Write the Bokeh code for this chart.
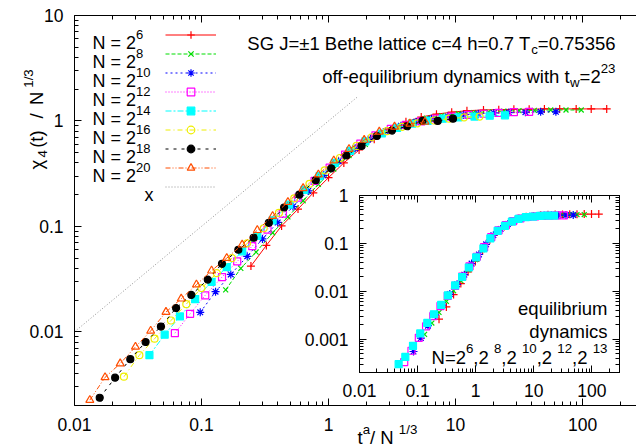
import math
from bokeh.plotting import figure
from bokeh.models import (Label, LogAxis, FixedTicker, CustomJSTickFormatter,
                          Legend, LegendItem, Range1d)
from bokeh.layouts import column
from bokeh.embed import file_html
from bokeh.resources import INLINE

# ---------------- data: main plot (off-equilibrium, t_w = 2^23) ----------------
x_n6 = [0.245, 0.324, 0.427, 0.575, 0.759, 1.00, 1.32, 1.74, 2.29, 3.09, 4.07, 5.37,
        7.08, 9.33, 12.3, 16.6, 21.9, 28.8, 38.0, 50.1, 66.1, 89.1, 117, 155]
y_n6 = [0.042, 0.066, 0.101, 0.146, 0.208, 0.29, 0.40, 0.53, 0.67, 0.84, 0.98, 1.09,
        1.16, 1.21, 1.25, 1.27, 1.28, 1.29, 1.29, 1.30, 1.30, 1.30, 1.30, 1.30]

x_n8 = [0.155, 0.204, 0.269, 0.363, 0.479, 0.631, 0.832, 1.10, 1.45, 1.95, 2.57, 3.39,
        4.47, 5.89, 7.76, 10.5, 13.8, 18.2, 24.0, 31.6, 41.7, 56.2, 74.1, 97.7]
y_n8 = [0.025, 0.040, 0.057, 0.087, 0.123, 0.175, 0.25, 0.35, 0.47, 0.60, 0.75, 0.88,
        0.98, 1.06, 1.12, 1.17, 1.20, 1.22, 1.24, 1.25, 1.26, 1.27, 1.27, 1.27]

x_n10 = [0.0977, 0.129, 0.170, 0.229, 0.302, 0.398, 0.525, 0.692, 0.912, 1.20, 1.62, 2.14,
         2.82, 3.72, 4.90, 6.46, 8.71, 11.5, 15.1, 20.0, 26.3, 35.5, 46.8, 61.7]
y_n10 = [0.0153, 0.024, 0.035, 0.052, 0.076, 0.109, 0.154, 0.217, 0.305, 0.415, 0.55, 0.68,
         0.80, 0.90, 0.98, 1.05, 1.10, 1.14, 1.17, 1.19, 1.20, 1.21, 1.22, 1.22]

x_n12 = [0.0617, 0.0813, 0.107, 0.145, 0.191, 0.251, 0.331, 0.437, 0.575, 0.776, 1.02, 1.35,
         1.78, 2.34, 3.09, 4.07, 5.37, 7.08, 9.33, 12.6, 16.6, 21.9, 28.8, 38.0]
y_n12 = [0.0097, 0.0148, 0.0222, 0.033, 0.0465, 0.065, 0.093, 0.132, 0.187, 0.27, 0.36, 0.48,
         0.61, 0.73, 0.84, 0.92, 0.99, 1.05, 1.10, 1.14, 1.17, 1.19, 1.21, 1.22]

x_n14 = [0.0389, 0.0513, 0.0676, 0.0891, 0.120, 0.158, 0.209, 0.275, 0.363, 0.490, 0.646, 0.851,
         1.12, 1.48, 1.95, 2.63, 3.47, 4.57, 6.03, 7.94, 10.5, 14.1, 18.6, 24.5]
y_n14 = [0.006, 0.0094, 0.014, 0.0204, 0.0297, 0.041, 0.058, 0.081, 0.114, 0.161, 0.222, 0.30,
         0.40, 0.52, 0.64, 0.76, 0.86, 0.94, 1.00, 1.05, 1.08, 1.10, 1.12, 1.13]

x_n16 = [0.0245, 0.0324, 0.0427, 0.0575, 0.0759, 0.100, 0.132, 0.174, 0.229, 0.309, 0.407, 0.537,
         0.708, 0.933, 1.23, 1.66, 2.19, 2.88, 3.80, 5.01, 6.76, 8.91, 11.7, 15.5]
y_n16 = [0.00375, 0.006, 0.0086, 0.0128, 0.0183, 0.026, 0.036, 0.050, 0.069, 0.096, 0.134, 0.184,
         0.253, 0.34, 0.445, 0.58, 0.70, 0.80, 0.88, 0.95, 1.01, 1.05, 1.08, 1.10]

x_n18 = [0.0158, 0.0209, 0.0275, 0.0363, 0.0479, 0.0631, 0.0832, 0.112, 0.145, 0.195, 0.257, 0.339,
         0.447, 0.589, 0.794, 1.05, 1.38, 1.82, 2.40, 3.16, 4.17, 5.50, 7.24, 9.55]
y_n18 = [0.00237, 0.00367, 0.0055, 0.008, 0.0112, 0.0168, 0.0224, 0.0313, 0.0441, 0.060, 0.078, 0.108,
         0.151, 0.20, 0.274, 0.355, 0.47, 0.58, 0.72, 0.81, 0.89, 1.0, 1.0, 1.05]

x_n20 = [0.0132, 0.0174, 0.0229, 0.0302, 0.0398, 0.0525, 0.0692, 0.0912, 0.120, 0.158, 0.209, 0.275,
         0.363, 0.479, 0.631, 0.832, 1.10, 1.45, 1.91, 2.51, 3.31, 4.37, 5.75]
y_n20 = [0.00225, 0.0037, 0.0050, 0.0072, 0.0102, 0.0154, 0.0206, 0.028, 0.038, 0.050, 0.067, 0.092,
         0.125, 0.17, 0.23, 0.31, 0.42, 0.54, 0.66, 0.79, 0.88, 0.94, 0.98]

# reference line "x"  (y = x)
guide_x = [0.01, 1.7]
guide_y = [0.01, 1.7]

# ---------------- data: inset (equilibrium dynamics) ----------------
ix_n6 = [0.234, 0.313, 0.417, 0.556, 0.741, 0.989, 1.32, 1.76, 2.34, 3.13, 4.17, 5.56,
         7.41, 9.89, 13.2, 17.6, 23.4, 31.3, 41.7, 55.6, 74.1, 98.9, 132]
iy_n6 = [0.0026, 0.0047, 0.0085, 0.0144, 0.0254, 0.042, 0.070, 0.119, 0.172, 0.224, 0.28, 0.33,
         0.36, 0.375, 0.387, 0.395, 0.40, 0.403, 0.406, 0.408, 0.41, 0.41, 0.41]

ix_n8 = [0.132, 0.176, 0.234, 0.313, 0.417, 0.556, 0.741, 0.989, 1.32, 1.76, 2.34, 3.13,
         4.17, 5.56, 7.41, 9.89, 13.2, 17.6, 23.4, 31.3, 41.7, 55.6, 74.1]
iy_n8 = [0.00125, 0.00216, 0.0036, 0.0061, 0.0102, 0.0166, 0.0281, 0.0455, 0.0736, 0.124, 0.177, 0.229,
         0.284, 0.327, 0.353, 0.367, 0.378, 0.386, 0.391, 0.395, 0.398, 0.40, 0.40]

ix_n10 = [0.0851, 0.114, 0.151, 0.202, 0.269, 0.359, 0.479, 0.638, 0.851, 1.14, 1.51, 2.02,
          2.69, 3.59, 4.79, 6.38, 8.51, 11.4, 15.1, 20.2, 26.9, 35.9, 47.9]
iy_n10 = [0.00055, 0.00105, 0.0019, 0.0032, 0.0051, 0.0087, 0.0139, 0.0222, 0.0377, 0.0588, 0.0955, 0.148,
          0.20, 0.254, 0.305, 0.34, 0.36, 0.372, 0.38, 0.385, 0.388, 0.39, 0.39]

ix_n12 = [0.0589, 0.0785, 0.105, 0.140, 0.186, 0.248, 0.331, 0.442, 0.589, 0.785, 1.05, 1.40,
          1.86, 2.48, 3.31, 4.42, 5.89, 7.85, 10.5, 14.0, 18.6, 24.8, 33.1]
iy_n12 = [0.00033, 0.00057, 0.00106, 0.00184, 0.0030, 0.0049, 0.0080, 0.0129, 0.0202, 0.0331, 0.0525, 0.083,
          0.135, 0.187, 0.24, 0.292, 0.331, 0.355, 0.366, 0.376, 0.381, 0.384, 0.386]

ix_n13 = [0.0472, 0.0615, 0.0834, 0.111, 0.147, 0.191, 0.255, 0.332, 0.443, 0.585, 0.762, 1.02,
          1.36, 1.79, 2.39, 3.19, 4.21, 5.48, 7.31, 9.77, 12.9, 17.3, 22.4]
iy_n13 = [0.000298, 0.000424, 0.000722, 0.00131, 0.00217, 0.0033, 0.0052, 0.00817, 0.0132, 0.0198, 0.0313, 0.0507,
          0.0785, 0.127, 0.182, 0.231, 0.285, 0.325, 0.353, 0.363, 0.376, 0.381, 0.381]

main_ticks_x = [0.01, 0.1, 1, 10, 100]
main_ticks_y = [0.01, 0.1, 1, 10]
inset_ticks_x = [0.01, 0.1, 1, 10, 100]
inset_ticks_y = [0.001, 0.01, 0.1, 1]

legend_exponents = ["6", "8", "10", "12", "14", "16", "18", "20"]

# ---------------- styling / layout ----------------
W, H = 636, 447
FONT = "Liberation Sans"
FS_TICK = 17.5
FS_KEY = 18
FS_TXT = 18.5
SUP = 0.72

ADV = {' ': .278, '!': .278, '(': .333, ')': .333, '+': .584, ',': .278, '-': .333,
       '.': .278, '/': .278, '=': .584, '±': .584, 'χ': .5,
       'B': .667, 'G': .778, 'J': .5, 'N': .722, 'S': .667, 'T': .611,
       'a': .556, 'b': .556, 'c': .5, 'd': .556, 'e': .556, 'f': .278, 'g': .556,
       'h': .556, 'i': .222, 'l': .222, 'm': .833, 'n': .556, 'o': .556, 'q': .556,
       'r': .333, 's': .5, 't': .278, 'u': .556, 'w': .722, 'y': .5, 'x': .5}


def tw(s, size):
    return sum(ADV.get(c, 0.556) for c in s) * size


def rich(fig, x, y, segs, size, align="left", angle=0.0, stretch=1.0):
    """x, y: page px (top-left origin) of the baseline anchor; fig frame == page."""
    sizes = [size if k == "n" else size * SUP for _, k in segs]
    widths = [tw(t, s) * stretch for (t, _), s in zip(segs, sizes)]
    total = sum(widths)
    off = {"left": 0.0, "right": -total, "center": -total / 2}[align]
    for (t, k), s, w in zip(segs, sizes, widths):
        d = 0.0 if k == "n" else (0.45 * size if k == "sup" else -0.3 * size)
        if angle == 0:
            cx, cy = x + off, y - d
        else:
            cx, cy = x - d, y - off
        if t.strip():
            fig.add_layout(Label(x=cx, y=H - cy, x_units="screen", y_units="screen",
                                 text=t, text_font=FONT, text_font_size=f"{s:.1f}px",
                                 text_color="black", text_align="left",
                                 text_baseline="alphabetic", angle=angle))
        off += w


def minors(lo, hi):
    return [m * 10.0 ** e for e in range(lo, hi) for m in range(2, 10)]


fmt = CustomJSTickFormatter(code="return String(tick);")


def style_axis(ax, show=True, standoff=10):
    ax.axis_line_color = "black"
    ax.axis_line_width = 1
    ax.major_tick_in = 7
    ax.major_tick_out = 0
    ax.minor_tick_in = 4
    ax.minor_tick_out = 0
    ax.major_tick_line_color = "black"
    ax.minor_tick_line_color = "black"
    ax.major_label_text_font = FONT
    if show:
        ax.major_label_text_color = "black"
        ax.major_label_text_font_size = f"{FS_TICK}px"
        ax.major_label_standoff = standoff
    else:
        ax.major_label_text_color = None
        ax.major_label_text_alpha = 0
        ax.major_label_text_font_size = "1px"
        ax.major_label_standoff = 0


# ---- main figure (page coords == canvas coords) ----
FL, FT, FB = 74, 15, 405
p = figure(width=W, height=H, x_axis_type="log", y_axis_type="log",
           x_range=(0.01, 266), y_range=(0.002, 10),
           output_backend="svg", toolbar_location=None,
           min_border_left=FL, min_border_right=0, min_border_top=FT,
           min_border_bottom=H - FB)
p.frame_align = False
p.outline_line_color = None
p.xgrid.visible = False
p.ygrid.visible = False
p.background_fill_color = "white"
p.border_fill_color = "white"

xt = FixedTicker(ticks=main_ticks_x, minor_ticks=minors(-2, 3))
yt = FixedTicker(ticks=main_ticks_y, minor_ticks=minors(-3, 1))
p.xaxis.ticker = xt
p.yaxis.ticker = yt
p.xaxis.formatter = fmt
p.yaxis.formatter = fmt
for ax in p.xaxis:
    style_axis(ax, standoff=12)
for ax in p.yaxis:
    style_axis(ax, standoff=11)
top = LogAxis(ticker=xt, formatter=fmt)
style_axis(top, show=False)
p.add_layout(top, "above")

styles = [
    (x_n6, y_n6, "#ff0000", "solid", "cross", 8, False),
    (x_n8, y_n8, "#00dd00", "4 2", "x", 7, False),
    (x_n10, y_n10, "#0000ff", "2 3", "asterisk", 8, False),
    (x_n12, y_n12, "#ff00ff", "1 2", "square", 7, False),
    (x_n14, y_n14, "#00ffff", "6 2 2 2", "square", 7, True),
    (x_n16, y_n16, "#eeee00", "5 3 1 3", "circle", 7, False),
    (x_n18, y_n18, "#000000", "3 5", "circle", 7, True),
    (x_n20, y_n20, "#ff4d00", "5 2 1 2 1 2", "triangle", 8, False),
]
items = []
for xs, ys, col, dash, mk, sz, filled in styles:
    lr = p.line(xs, ys, line_color=col, line_dash=dash, line_width=1)
    sr = p.scatter(xs, ys, marker=mk, size=sz, line_color=col, line_width=1.2,
                   fill_color=col if filled else None)
    items.append(LegendItem(label=" ", renderers=[lr, sr]))
gl = p.line(guide_x, guide_y, line_color="#909090", line_dash="1 2", line_width=1)
items.append(LegendItem(label=" ", renderers=[gl]))

leg = Legend(items=items, location=(91, 209), glyph_width=51, glyph_height=19,
             label_width=0, label_height=19, label_standoff=0, padding=0, spacing=0,
             margin=0, border_line_alpha=0, background_fill_alpha=0,
             label_text_font_size="1px", label_text_color=None, label_text_alpha=0)
p.add_layout(leg)

# ---- inset figure ----
IL, IT, IW, IH = 60, 10, 260, 177
IR, IB = 8, 34
inset = figure(width=IL + IW + IR, height=IT + IH + IB, x_axis_type="log", y_axis_type="log",
               x_range=(0.01, 300), y_range=(0.0002, 1),
               output_backend="svg", toolbar_location=None,
               min_border_left=IL, min_border_right=IR, min_border_top=IT,
               min_border_bottom=IB)
inset.frame_align = False
inset.xgrid.visible = False
inset.ygrid.visible = False
inset.background_fill_color = "white"
inset.border_fill_alpha = 0
inset.outline_line_color = "black"
ixt = FixedTicker(ticks=inset_ticks_x, minor_ticks=minors(-2, 3))
iyt = FixedTicker(ticks=inset_ticks_y, minor_ticks=minors(-4, 1))
inset.xaxis.ticker = ixt
inset.yaxis.ticker = iyt
inset.xaxis.formatter = fmt
inset.yaxis.formatter = fmt
for ax in inset.xaxis:
    style_axis(ax, standoff=11)
for ax in inset.yaxis:
    style_axis(ax, standoff=11)
for loc, tk in (("above", ixt), ("right", iyt)):
    a = LogAxis(ticker=tk, formatter=fmt)
    style_axis(a, show=False)
    inset.add_layout(a, loc)

istyles = [
    (ix_n6, iy_n6, "#ff0000", "cross", 8, False),
    (ix_n8, iy_n8, "#00dd00", "x", 7, False),
    (ix_n10, iy_n10, "#0000ff", "asterisk", 8, False),
    (ix_n12, iy_n12, "#ff00ff", "square", 7, False),
    (ix_n13, iy_n13, "#00ffff", "square", 7, True),
]
for xs, ys, col, mk, sz, filled in istyles:
    inset.scatter(xs, ys, marker=mk, size=sz, line_color=col, line_width=1.2,
                  fill_color=col if filled else None)

INSET_LEFT, INSET_TOP = 359 - IL, 195 - IT
inset.margin = (INSET_TOP - H, 0, 0, INSET_LEFT)

# ---- transparent text layer covering the whole page ----
txt = figure(width=W, height=H, x_range=Range1d(0, W), y_range=Range1d(0, H),
             output_backend="svg", toolbar_location=None,
             x_axis_location=None, y_axis_location=None,
             min_border=0, min_border_left=0, min_border_right=0,
             min_border_top=0, min_border_bottom=0)
txt.frame_align = False
txt.outline_line_color = None
txt.background_fill_alpha = 0
txt.border_fill_alpha = 0
txt.grid.visible = False
txt.margin = (-(INSET_TOP + IT + IH + IB), 0, 0, 0)

# legend texts
for i, s in enumerate(legend_exponents):
    rich(txt, 92, 42.5 + 19 * i, [("N = 2", "n"), (s, "sup")], FS_KEY)
rich(txt, 153, 42.5 + 19 * 8, [("x", "n")], FS_KEY, align="right")

# titles
rich(txt, 615, 43.3, [("SG J=±1 Bethe lattice c=4 h=0.7 T", "n"), ("c", "sub"),
                      ("=0.75356", "n")], FS_TXT, align="right")
rich(txt, 615, 76, [("off-equilibrium dynamics with t", "n"), ("w", "sub"),
                    ("=2", "n"), ("23", "sup")], FS_TXT, align="right")
# axis labels
rich(txt, 357, 437, [("t", "n"), ("a", "sup"), (" / N", "n"), ("1/3", "sup")], FS_TXT)
rich(txt, 36, 169, [("χ", "n"), ("4", "sub"), ("(t)", "n"), (" ", "n"), ("/", "n"),
                    (" ", "n"), ("N", "n"), ("1/3", "sup")], FS_TXT,
     angle=math.pi / 2, stretch=1.3)
# inset annotation
rich(txt, 607, 308.3, [("equilibrium", "n")], FS_TXT, align="right")
rich(txt, 607, 330.7, [("dynamics", "n")], FS_TXT, align="right")
rich(txt, 607, 356.7, [("N=2", "n"), ("6", "sup"), (" ,2", "n"), ("8", "sup"),
                       (" ,2", "n"), ("10", "sup"), (" ,2", "n"), ("12", "sup"),
                       (" ,2", "n"), ("13", "sup")], FS_TXT, align="right")

layout = column(p, inset, txt)
open("out.html", "w").write(file_html(layout, INLINE))
